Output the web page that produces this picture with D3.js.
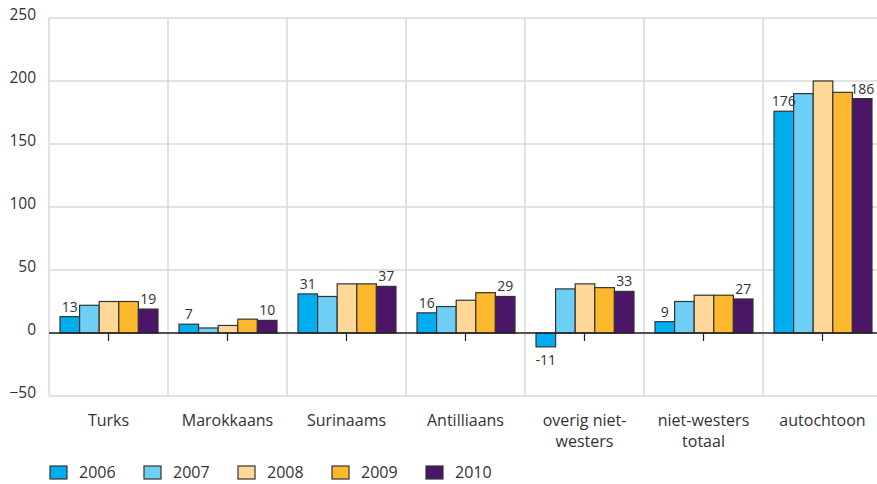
<!DOCTYPE html>
<html><head><meta charset="utf-8">
<script src="https://cdn.jsdelivr.net/npm/d3@7"></script>
<style>
body{margin:0;background:#fff;}
svg text{font-family:"Open Sans","Noto Sans",sans-serif;fill:#333;}
</style></head>
<body><svg id="c" width="877" height="484"></svg>
<script>
const categories = [["Turks"],["Marokkaans"],["Surinaams"],["Antilliaans"],["overig niet-","westers"],["niet-westers","totaal"],["autochtoon"]];
const years = ["2006","2007","2008","2009","2010"];
const v2006 = [13, 7, 31, 16, -11, 9, 176];
const v2007 = [22, 4, 29, 21, 35, 25, 190];
const v2008 = [25, 6, 39, 26, 39, 30, 200];
const v2009 = [25, 11, 39, 32, 36, 30, 191];
const v2010 = [19, 10, 37, 29, 33, 27, 186];
const yTicks = [-50, 0, 50, 100, 150, 200, 250];
const colors = ["#00aeef","#6dcff6","#ffd796","#fdb92e","#4b1668"];
const series = [v2006, v2007, v2008, v2009, v2010];

(function(){
const svg = d3.select("#c");
const pL = 49, pR = 882, pT = 18, pB = 396;
const x = d3.scaleBand().domain(d3.range(categories.length)).range([pL, pR]).paddingInner(0).paddingOuter(0);
const xi = d3.scaleBand().domain(d3.range(years.length)).range([11, x.bandwidth()-10]).padding(0);
const y = d3.scaleLinear().domain([-50, 250]).range([pB, pT]);

// grid
svg.append("g").selectAll("line").data(yTicks).join("line")
  .attr("x1", pL).attr("x2", 877).attr("y1", d=>y(d)).attr("y2", d=>y(d))
  .attr("stroke", "#d9d9d9").attr("stroke-width", 1.5);
svg.append("g").selectAll("line").data(d3.range(categories.length+1)).join("line")
  .attr("x1", d=> d<categories.length ? x(d) : pR).attr("x2", d=> d<categories.length ? x(d) : pR)
  .attr("y1", pT).attr("y2", pB)
  .attr("stroke", "#d9d9d9").attr("stroke-width", 1.5);

// y labels
svg.append("g").selectAll("text").data(yTicks).join("text")
  .attr("x", 36).attr("y", d=>y(d)).attr("dy", "0.1em")
  .attr("text-anchor", "end").attr("font-size", 15.5)
  .text(d=> d<0 ? "\u2212"+Math.abs(d) : d);

// bars
const g = svg.append("g");
categories.forEach((c, ci) => {
  series.forEach((s, si) => {
    const v = s[ci];
    g.append("rect")
      .attr("x", x(ci) + xi(si)).attr("width", xi.bandwidth())
      .attr("y", y(Math.max(0, v))).attr("height", Math.abs(y(v) - y(0)))
      .attr("fill", colors[si]).attr("stroke", "#333").attr("stroke-width", 1.2);
  });
  [0, 4].forEach(si => {
    const v = series[si][ci];
    g.append("text")
      .attr("x", x(ci) + xi(si) + xi.bandwidth()/2)
      .attr("y", v >= 0 ? y(v) - 5 : y(v) + 18)
      .attr("text-anchor", "middle").attr("font-size", 14)
      .text(v < 0 ? "-" + Math.abs(v) : v);
  });
});

// zero line and ticks
svg.append("line").attr("x1", pL).attr("x2", 877).attr("y1", y(0)).attr("y2", y(0))
  .attr("stroke", "#222").attr("stroke-width", 1.5);
svg.append("g").selectAll("line").data(d3.range(categories.length)).join("line")
  .attr("x1", d=>x(d)+x.bandwidth()/2).attr("x2", d=>x(d)+x.bandwidth()/2)
  .attr("y1", y(0)).attr("y2", y(0)+8).attr("stroke", "#222").attr("stroke-width", 1.2);

// category labels
categories.forEach((c, ci) => {
  c.forEach((line, li) => {
    svg.append("text").attr("x", x(ci) + x.bandwidth()/2).attr("y", 426 + li*21)
      .attr("text-anchor", "middle").attr("font-size", 16).text(line);
  });
});

// legend
const lg = svg.append("g");
years.forEach((yr, i) => {
  const lx = 50 + i*94;
  lg.append("rect").attr("x", lx).attr("y", 466).attr("width", 17).attr("height", 13)
    .attr("fill", colors[i]).attr("stroke", "#333").attr("stroke-width", 1.2);
  lg.append("text").attr("x", lx + 29).attr("y", 478).attr("font-size", 16).text(yr);
});
})();
</script></body></html>
